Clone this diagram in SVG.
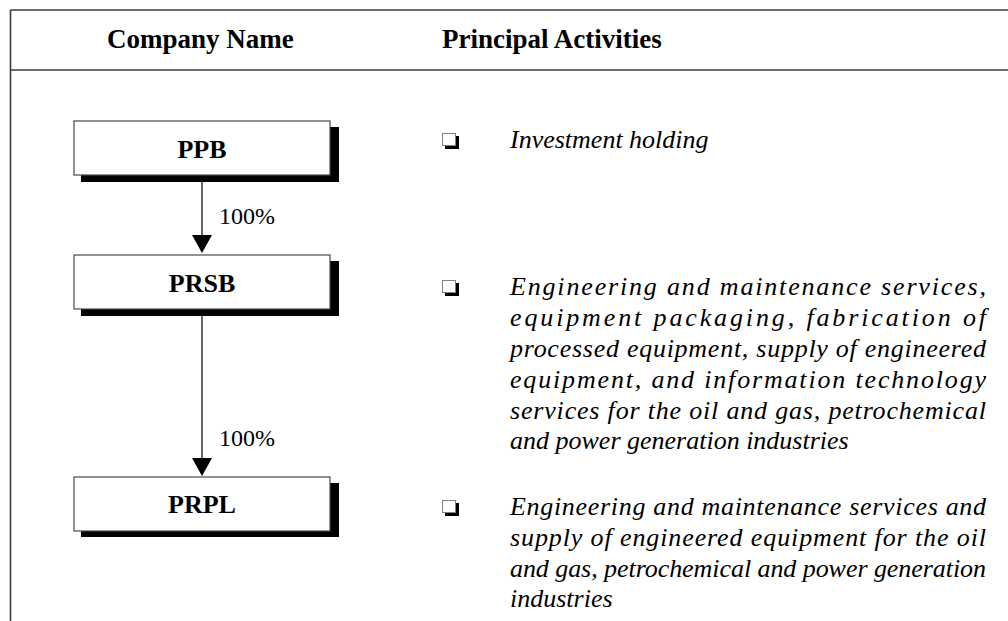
<svg xmlns="http://www.w3.org/2000/svg" width="1008" height="621" viewBox="0 0 1008 621">
  <style>
    .frame { stroke: #3a3a3a; stroke-width: 1.6; fill: none; }
    .head { font-family: "Liberation Serif", "Times New Roman", serif; font-weight: bold; font-size: 27px; fill: #000; }
    .box { fill: #fff; stroke: #4a4a4a; stroke-width: 1.2; }
    .shadow { fill: #000; }
    .name { font-family: "Liberation Serif", "Times New Roman", serif; font-weight: bold; font-size: 26px; fill: #000; text-anchor: middle; }
    .pct { font-family: "Liberation Serif", "Times New Roman", serif; font-size: 24px; fill: #000; }
    .edge { stroke: #000; stroke-width: 1.2; fill: none; }
    .head-tip { fill: #000; }
    .act { font-family: "Liberation Serif", "Times New Roman", serif; font-style: italic; font-size: 26px; fill: #000; }
  </style>
  <defs>
    <!-- shadowed square bullet -->
    <g id="bullet">
      <path d="M13.5,3 H17 V16 H3 V12.5 H13.5 Z" fill="#000"/>
      <rect x="0.5" y="0.5" width="13" height="12" fill="#fff" stroke="#808080" stroke-width="1"/>
    </g>
  </defs>

  <rect width="1008" height="621" fill="#fff"/>

  <!-- table frame -->
  <g id="frame">
    <line class="frame" x1="10.5" y1="10" x2="1008" y2="10"/>
    <line class="frame" x1="10.5" y1="70" x2="1008" y2="70"/>
    <line class="frame" x1="10.5" y1="10" x2="10.5" y2="621"/>
  </g>

  <!-- column headings -->
  <g id="headings">
    <text class="head" x="107" y="48">Company Name</text>
    <text class="head" x="442" y="48">Principal Activities</text>
  </g>

  <!-- connectors -->
  <g id="connectors">
    <line class="edge" x1="202" y1="175" x2="202" y2="236"/>
    <path class="head-tip" d="M192,235 H212 L202,253 Z"/>
    <text class="pct" x="219" y="224">100%</text>
    <line class="edge" x1="202" y1="309" x2="202" y2="459"/>
    <path class="head-tip" d="M192,458 H212 L202,476 Z"/>
    <text class="pct" x="219" y="446">100%</text>
  </g>

  <!-- company nodes -->
  <g id="node-ppb">
    <rect class="shadow" x="81" y="127" width="258" height="55"/>
    <rect class="box" x="74" y="121" width="256" height="54"/>
    <text class="name" x="202" y="157.5">PPB</text>
  </g>
  <g id="node-prsb">
    <rect class="shadow" x="81" y="261" width="258" height="55"/>
    <rect class="box" x="74" y="255" width="256" height="54"/>
    <text class="name" x="202" y="291.5">PRSB</text>
  </g>
  <g id="node-prpl">
    <rect class="shadow" x="81" y="483" width="258" height="54"/>
    <rect class="box" x="74" y="477" width="256" height="54"/>
    <text class="name" x="202" y="513">PRPL</text>
  </g>

  <!-- principal activities -->
  <g id="activity-ppb">
    <use href="#bullet" x="442" y="133"/>
    <text class="act" x="510" y="148">Investment holding</text>
  </g>
  <g id="activity-prsb">
    <use href="#bullet" x="442" y="280"/>
    <text class="act" x="510" y="295" textLength="476" lengthAdjust="spacing">Engineering and maintenance services,</text>
    <text class="act" x="510" y="326" textLength="476" lengthAdjust="spacing">equipment packaging, fabrication of</text>
    <text class="act" x="510" y="357" textLength="476" lengthAdjust="spacing">processed equipment, supply of engineered</text>
    <text class="act" x="510" y="388" textLength="476" lengthAdjust="spacing">equipment, and information technology</text>
    <text class="act" x="510" y="419" textLength="476" lengthAdjust="spacing">services for the oil and gas, petrochemical</text>
    <text class="act" x="510" y="449">and power generation industries</text>
  </g>
  <g id="activity-prpl">
    <use href="#bullet" x="442" y="500"/>
    <text class="act" x="510" y="515" textLength="476" lengthAdjust="spacing">Engineering and maintenance services and</text>
    <text class="act" x="510" y="546" textLength="476" lengthAdjust="spacing">supply of engineered equipment for the oil</text>
    <text class="act" x="510" y="577" textLength="476" lengthAdjust="spacing">and gas, petrochemical and power generation</text>
    <text class="act" x="510" y="607">industries</text>
  </g>
</svg>
